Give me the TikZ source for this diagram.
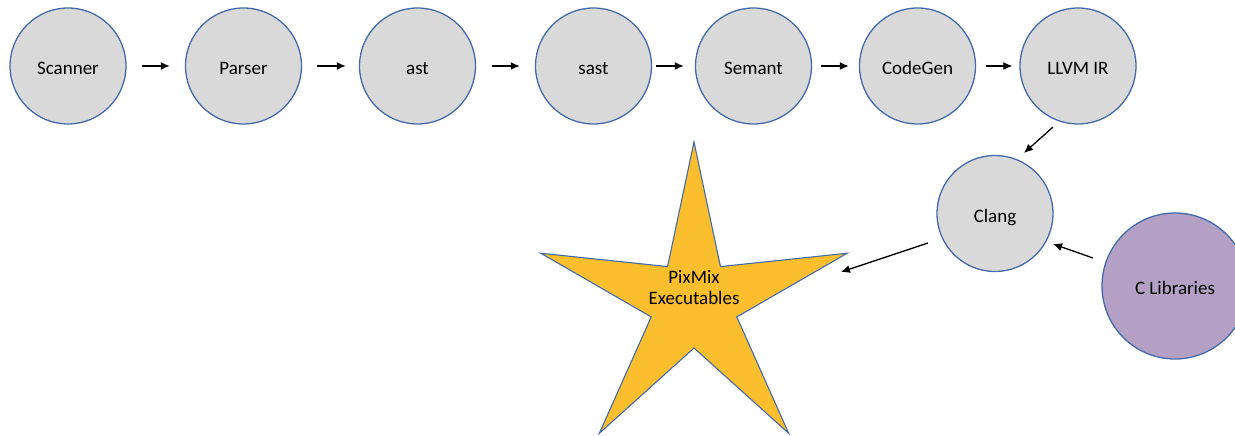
\documentclass[tikz,border=0pt]{standalone}
\usepackage{fontspec}
\setmainfont{Carlito}
\usetikzlibrary{arrows.meta,calc}
\definecolor{stagefill}{RGB}{217,217,217}
\definecolor{stageedge}{RGB}{68,106,170}
\definecolor{libfill}{RGB}{179,160,196}
\definecolor{goldfill}{RGB}{251,190,45}
\tikzset{
  stage/.style={circle, draw=stageedge, line width=1.3pt, fill=stagefill,
    minimum size=116pt, inner sep=0pt, text height=17pt, text depth=0pt,
    font=\fontsize{19}{22}\selectfont},
  flow/.style={-{Latex[length=9pt,width=8pt]}, line width=1.3pt},
  starbody/.style={draw=stageedge, line width=1.1pt, fill=goldfill, line join=miter},
}
\begin{document}
\begin{tikzpicture}[x=1pt,y=1pt]
  \useasboundingbox (0,0) rectangle (1235,-436);

  % compiler pipeline
  \node[stage] (scanner) at (68,-66)     {Scanner};
  \node[stage] (parser)  at (243.5,-66)  {Parser};
  \node[stage] (ast)     at (417.5,-66)  {ast};
  \node[stage] (sast)    at (593.5,-66)  {sast};
  \node[stage] (semant)  at (753.5,-66)  {Semant};
  \node[stage] (codegen) at (917.5,-66)  {CodeGen};
  \node[stage] (llvm)    at (1078,-66)   {LLVM IR};
  \node[stage] (clang)   at (995,-213.5) {Clang};
  \node[stage, fill=libfill, minimum size=146pt] (clib) at (1175,-286) {C Libraries};

  % output star
  \coordinate (star) at (694,-303);
  \draw[starbody]
    ($(star)+(90:161)$)  -- ($(star)+(126:45)$) --
    ($(star)+(162:161)$) -- ($(star)+(198:45)$) --
    ($(star)+(234:161)$) -- ($(star)+(270:45)$) --
    ($(star)+(306:161)$) -- ($(star)+(342:45)$) --
    ($(star)+(18:161)$)  -- ($(star)+(54:45)$)  -- cycle;
  \node[align=center, font=\fontsize{19}{21.5}\selectfont] (exe) at (694,-287.5)
    {PixMix\\Executables};

  % connectors
  \draw[flow, shorten <=15pt, shorten >=15pt] (scanner) -- (parser);
  \draw[flow, shorten <=15pt, shorten >=13pt] (parser) -- (ast);
  \draw[flow, shorten <=16pt, shorten >=15pt] (ast) -- (sast);
  \draw[flow, shorten <=4pt,  shorten >=11pt] (sast) -- (semant);
  \draw[flow, shorten <=9pt,  shorten >=10pt] (semant) -- (codegen);
  \draw[flow, shorten <=10pt, shorten >=7pt]  (codegen) -- (llvm);
  \draw[flow] ($(llvm)+(-25,-61)$) -- ($(clang)+(29,60.5)$);
  \draw[flow] ($(clib)+(-82,28)$) -- ($(clang)+(58,-30.5)$);
  \draw[flow] ($(clang)+(-67,-29.5)$) -- ($(star)+(147,31)$);
\end{tikzpicture}
\end{document}
